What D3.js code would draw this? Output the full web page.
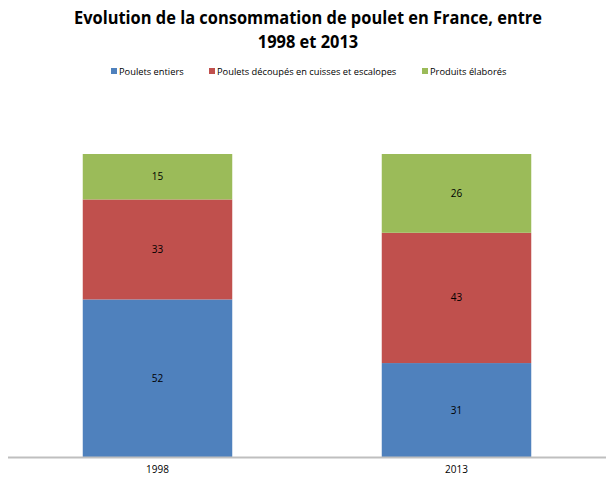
<!DOCTYPE html>
<html><head><meta charset="utf-8">
<script src="https://cdn.jsdelivr.net/npm/d3@7"></script>
<style>body{margin:0;background:#fff}text{font-family:"Open Sans",sans-serif}</style>
</head><body>
<svg id="c" width="616" height="503"></svg>
<script>
const categories = ["1998", "2013"];
const seriesNames = ["Poulets entiers", "Poulets découpés en cuisses et escalopes", "Produits élaborés"];
const entiers = [52, 31];
const decoupes = [33, 43];
const elabores = [15, 26];
const colors = ["#4F81BD", "#C0504D", "#9BBB59"];

const svg = d3.select("#c");
const W = 616;
const plotBottom = 457;

const x = d3.scaleBand().domain(categories).range([8, 606]).paddingInner(0.5).paddingOuter(0.25);
const y = d3.scaleLinear().domain([0, 100]).range([plotBottom, 154]);

const table = categories.map((c, i) => ({cat: c, s0: entiers[i], s1: decoupes[i], s2: elabores[i]}));
const stack = d3.stack().keys(["s0", "s1", "s2"])(table);

function squeeze(sel, ratio) {
  const l = sel.node().getComputedTextLength();
  sel.attr("textLength", l * ratio).attr("lengthAdjust", "spacingAndGlyphs");
}

stack.forEach((layer, li) => {
  const g = svg.append("g");
  g.selectAll("rect").data(layer).join("rect")
    .attr("x", d => x(d.data.cat))
    .attr("width", x.bandwidth())
    .attr("y", d => y(d[1]))
    .attr("height", d => y(d[0]) - y(d[1]))
    .attr("fill", colors[li]);
  g.selectAll("text").data(layer).join("text")
    .attr("x", d => x(d.data.cat) + x.bandwidth() / 2)
    .attr("y", d => (y(d[0]) + y(d[1])) / 2)
    .attr("dy", "0.35em")
    .attr("text-anchor", "middle")
    .attr("font-size", 10)
    .attr("fill", "#000")
    .text(d => d[1] - d[0]);
});

// axis
const ax = svg.append("g").attr("transform", `translate(0,${plotBottom})`)
  .call(d3.axisBottom(x).tickSize(0).tickPadding(9));
ax.select(".domain").attr("stroke", "#BFBFBF").attr("stroke-width", 2).attr("d", "M8,0.5H606");
ax.selectAll("text").attr("font-size", 10).attr("fill", "#000").attr("font-family", "Open Sans, sans-serif");

// title
const t1 = svg.append("text").attr("x", W / 2).attr("y", 24).attr("text-anchor", "middle")
  .attr("font-weight", "bold").attr("font-size", 17).attr("fill", "#000")
  .text("Evolution de la consommation de poulet en France, entre");
const t2 = svg.append("text").attr("x", W / 2).attr("y", 48).attr("text-anchor", "middle")
  .attr("font-weight", "bold").attr("font-size", 17).attr("fill", "#000")
  .text("1998 et 2013");
const ratio = 468 / t1.node().getComputedTextLength();
squeeze(t1, ratio); squeeze(t2, ratio);

// legend
const legX = [111, 209, 422];
const lg = svg.append("g");
seriesNames.forEach((n, i) => {
  lg.append("rect").attr("x", legX[i]).attr("y", 68).attr("width", 6).attr("height", 6).attr("fill", colors[i]);
  lg.append("text").attr("x", legX[i] + 8).attr("y", 74.5)
    .attr("font-size", 9.3).attr("fill", "#000").text(n);
});
</script>
</body></html>
